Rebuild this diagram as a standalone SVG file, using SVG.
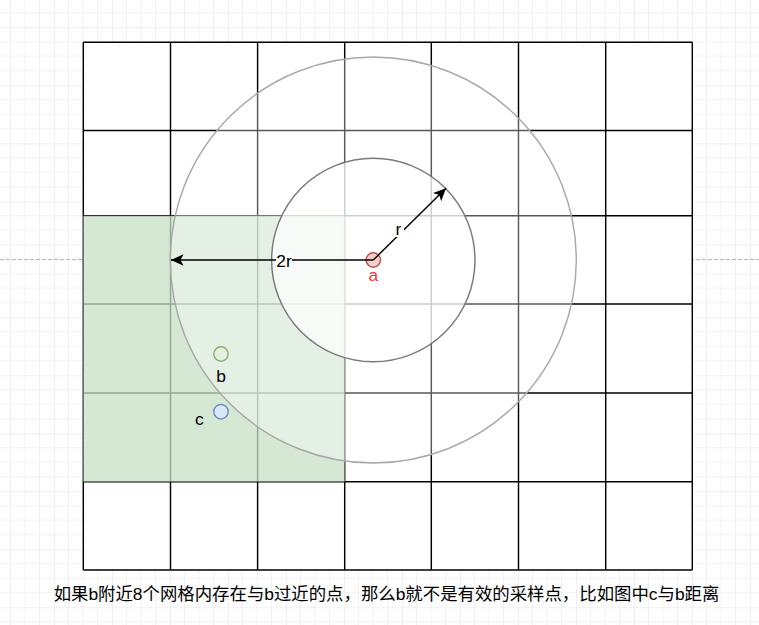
<svg xmlns="http://www.w3.org/2000/svg" width="759" height="625" viewBox="0 0 759 625">
  <defs>
    <pattern id="bg" patternUnits="userSpaceOnUse" x="-4" y="-30.7" width="58" height="58">
      <path d="M14.5 0V58M29 0V58M43.5 0V58M0 14.5H58M0 29H58M0 43.5H58" stroke="#f1f1f1" stroke-width="1" fill="none"/>
      <path d="M0 0V58M0 0H58" stroke="#e2e2e2" stroke-width="1" fill="none"/>
    </pattern>
    <marker id="arrow" viewBox="-13 -7 14 14" refX="0" refY="0" markerWidth="14" markerHeight="14" markerUnits="userSpaceOnUse" orient="auto">
      <path d="M0 0L-12.5 -5.8L-9.5 0L-12.5 5.8Z" fill="#000"/>
    </marker>
    <style>
      .t{font-family:"Liberation Sans","Noto Sans CJK SC",sans-serif;font-size:17.4px;text-anchor:middle}
      .gl{stroke:#000;stroke-width:1.45;fill:none}
      .conn{stroke:#000;stroke-width:1.45;fill:none;marker-end:url(#arrow)}
      .lbl{fill:#fff}
    </style>
  </defs>
  <rect width="759" height="625" fill="#fff"/>
  <rect width="759" height="625" fill="url(#bg)"/>
  <line x1="0" y1="259.5" x2="759" y2="259.5" stroke="#b8b8b8" stroke-width="1" stroke-dasharray="4 2"/>

  <g id="grid">
    <rect x="83.3" y="42.3" width="609" height="527.7" fill="#fff"/>
    <path class="gl" d="M83.3 42.3V570M170.5 42.3V570M257.6 42.3V570M344.7 42.3V570M431.3 42.3V570M518.5 42.3V570M605.7 42.3V570M692.3 42.3V570M83.3 42.3H692.3M83.3 130.5H692.3M83.3 215.7H692.3M83.3 304H692.3M83.3 393H692.3M83.3 481.7H692.3M83.3 570H692.3"/>
  </g>

  <g id="region">
    <rect x="83.3" y="215.7" width="261.4" height="266" fill="#c7e0c6" opacity="0.75"/>
  </g>

  <g id="circle-2r">
    <circle cx="373.3" cy="260" r="203" fill="#fff" fill-opacity="0.35" stroke="#a8a8a8" stroke-width="1.45"/>
  </g>
  <g id="circle-r">
    <circle cx="373.3" cy="260" r="101.7" fill="#fff" fill-opacity="0.7" stroke="#7a7a7a" stroke-width="1.45"/>
  </g>

  <g id="point-a">
    <circle cx="373.3" cy="260" r="7.2" fill="#f8cecc" stroke="#b85450" stroke-width="1.45"/>
    <text class="t" x="373.3" y="281" fill="#ff3333">a</text>
  </g>
  <g id="point-b">
    <circle cx="221" cy="354" r="7.2" fill="none" stroke="#82b366" stroke-width="1.45"/>
    <text class="t" x="221" y="381.5" fill="#000">b</text>
  </g>
  <g id="point-c">
    <circle cx="221" cy="411.7" r="7.2" fill="#dae8fc" stroke="#6c8ebf" stroke-width="1.45"/>
    <text class="t" x="199.3" y="425" fill="#000">c</text>
  </g>

  <g id="connectors">
    <line class="conn" x1="373.3" y1="260" x2="171" y2="260"/>
    <line class="conn" x1="373.3" y1="260" x2="446" y2="188.3"/>
    <rect class="lbl" x="276" y="251" width="16" height="18"/>
    <text class="t" x="284" y="266.5" fill="#000">2r</text>
    <rect class="lbl" x="394" y="222" width="10" height="15"/>
    <text class="t" x="398.5" y="234.5" fill="#000">r</text>
  </g>

  <g id="caption">
    <text class="t" x="386.5" y="600" fill="#000">如果b附近8个网格内存在与b过近的点，那么b就不是有效的采样点，比如图中c与b距离</text>
  </g>
</svg>
